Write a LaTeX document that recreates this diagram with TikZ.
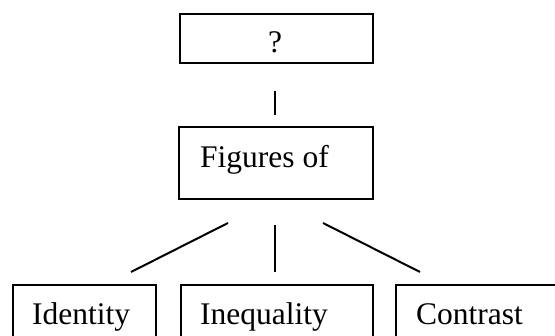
\documentclass[tikz,border=0pt]{standalone}
\usepackage{fontspec}
\setmainfont{Liberation Serif}
\begin{document}
\begin{tikzpicture}[x=1pt,y=-1pt,
  box/.style={draw=black,line width=2pt,rectangle,inner sep=0pt,anchor=north west},
  txt/.style={inner sep=0pt,anchor=base west,font=\fontsize{31.5}{38}\selectfont},
  link/.style={line width=2pt}]
\useasboundingbox (0,0) rectangle (555,336);
\clip (0,0) rectangle (555,336);
% boxes
\node[box,minimum width=193pt,minimum height=49pt] (top) at (178.5,13) {};
\node[box,minimum width=194pt,minimum height=72pt] (mid) at (178,126) {};
\node[box,minimum width=143pt,minimum height=80pt] (idn) at (11.7,284) {};
\node[box,minimum width=192pt,minimum height=80pt] (ineq) at (180,284) {};
\node[box,minimum width=180pt,minimum height=80pt] (con) at (395,284) {};
% labels
\node[txt,anchor=base] (topt) at (275,53) {?};
\node[txt] (midt) at (200,168) {Figures of};
\node[txt] (idnt) at (32,325) {Identity};
\node[txt] (ineqt) at (200,325) {Inequality};
\node[txt] (cont) at (416,325) {Contrast};
% connector ends
\coordinate (l1) at (228,223);
\coordinate (l2) at (131,272);
\coordinate (r1) at (323,223);
\coordinate (r2) at (420,272);
% connectors
\draw[link,shorten <=27pt,shorten >=11pt] (top.south -| topt) -- (mid.north -| topt);
\draw[link,shorten <=25pt,shorten >=12pt] (mid.south -| topt) -- (ineq.north -| topt);
\draw[link] (l1) -- (l2);
\draw[link] (r1) -- (r2);
\end{tikzpicture}
\end{document}
